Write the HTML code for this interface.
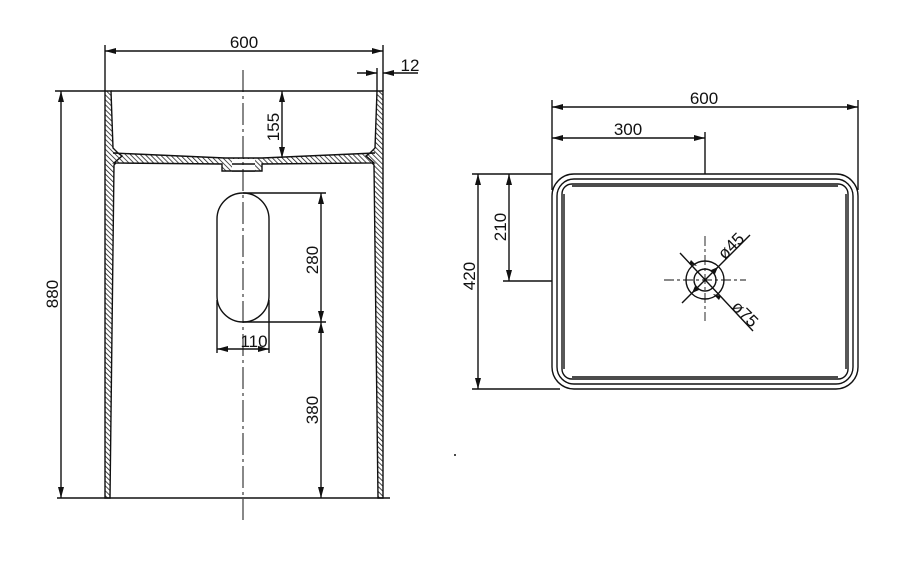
<!DOCTYPE html>
<html><head><meta charset="utf-8"><style>
html,body{margin:0;padding:0;background:#fff;}
svg{display:block;}
text{font-family:"Liberation Sans",sans-serif;font-size:17px;fill:#111;}
</style></head><body>
<svg width="900" height="562" viewBox="0 0 900 562" xmlns="http://www.w3.org/2000/svg">
<defs>
<pattern id="h" width="3.5" height="3.5" patternUnits="userSpaceOnUse" patternTransform="rotate(-45)">
<rect width="3.5" height="3.5" fill="#fff"/><line x1="0" y1="0" x2="0" y2="3.5" stroke="#111" stroke-width="1.5"/>
</pattern>
<marker id="a" markerWidth="11" markerHeight="6" refX="11" refY="3" orient="auto-start-reverse" markerUnits="userSpaceOnUse">
<path d="M0,0 L11,3 L0,6 Z" fill="#111"/></marker>
</defs>
<g stroke="#111" stroke-width="1.4" fill="none">
<path d="M105,91 L111,91 L113,148 L118,153 L122,156 L114,165 L110,498 L105,498 Z" fill="url(#h)"/>
<path d="M383,91 L377,91 L375,148 L370,153 L366,156 L374,165 L378,498 L383,498 Z" fill="url(#h)"/>
<path d="M113,153 L225,158 L262,158 L375,153 L370,153 L366,156 L374,163 L262,164 L262,171 L222,171 L222,164 L114,163 L122,156 L118,153 Z" fill="url(#h)"/>
<rect x="232" y="159" width="23" height="12" fill="#fff" stroke="none"/>
<line x1="232" y1="164" x2="255" y2="164"/><line x1="232" y1="171" x2="255" y2="171"/>
<line x1="55" y1="91" x2="105" y2="91"/><line x1="111" y1="91" x2="377" y2="91"/>
<line x1="57" y1="498" x2="390" y2="498"/>
<line x1="105" y1="45" x2="105" y2="91"/><line x1="383" y1="45" x2="383" y2="91"/>
<line x1="105" y1="51" x2="383" y2="51" marker-start="url(#a)" marker-end="url(#a)"/>
<line x1="357" y1="73" x2="377" y2="73" marker-end="url(#a)"/>
<line x1="418" y1="73" x2="383" y2="73" marker-end="url(#a)"/>
<line x1="377" y1="68" x2="377" y2="91"/>
<line x1="243" y1="70" x2="243" y2="520" stroke-dasharray="22,4,3,4" stroke-width="1"/>
<line x1="282" y1="91" x2="282" y2="158" marker-start="url(#a)" marker-end="url(#a)"/>
<line x1="61" y1="91" x2="61" y2="498" marker-start="url(#a)" marker-end="url(#a)"/>
<rect x="217" y="193" width="52" height="129" rx="26" ry="26"/>
<line x1="243" y1="193" x2="326" y2="193"/><line x1="243" y1="322" x2="326" y2="322"/>
<line x1="321" y1="193" x2="321" y2="322" marker-start="url(#a)" marker-end="url(#a)"/>
<line x1="321" y1="322" x2="321" y2="498" marker-start="url(#a)" marker-end="url(#a)"/>
<line x1="217" y1="300" x2="217" y2="353"/><line x1="269" y1="300" x2="269" y2="353"/>
<line x1="217" y1="349" x2="269" y2="349" marker-start="url(#a)" marker-end="url(#a)"/>
<rect x="552" y="174" width="306" height="215" rx="22"/>
<rect x="557" y="179" width="296" height="205" rx="17"/>
<rect x="562" y="184" width="286" height="195" rx="10"/>
<line x1="572" y1="186" x2="838" y2="186"/><line x1="572" y1="377" x2="838" y2="377"/>
<line x1="564" y1="194" x2="564" y2="369"/><line x1="846" y1="194" x2="846" y2="369"/>
<line x1="552" y1="100" x2="552" y2="190"/><line x1="858" y1="100" x2="858" y2="190"/>
<line x1="552" y1="107" x2="858" y2="107" marker-start="url(#a)" marker-end="url(#a)"/>
<line x1="705" y1="132" x2="705" y2="174"/>
<line x1="552" y1="138" x2="705" y2="138" marker-start="url(#a)" marker-end="url(#a)"/>
<line x1="472" y1="174" x2="552" y2="174"/><line x1="472" y1="389" x2="560" y2="389"/>
<line x1="478" y1="174" x2="478" y2="389" marker-start="url(#a)" marker-end="url(#a)"/>
<line x1="503" y1="281" x2="552" y2="281"/>
<line x1="509" y1="174" x2="509" y2="281" marker-start="url(#a)" marker-end="url(#a)"/>
<circle cx="705" cy="280" r="19"/><circle cx="705" cy="280" r="11"/>
<g stroke-dasharray="10,3,3,3" stroke-width="0.9">
<line x1="664" y1="280" x2="746" y2="280"/><line x1="705" y1="236" x2="705" y2="321"/>
</g>
<line x1="682" y1="303" x2="750" y2="235"/>
<line x1="680" y1="253" x2="753" y2="331"/>
</g>
<g fill="#111">
<path d="M718,267 l-7,3 l4,4 z M692,293 l7,-3 l-4,-4 z"/>
<path d="M689,264 l8,2 l-6,-6 z M721,296 l-8,-2 l6,6 z"/>
<circle cx="455" cy="455" r="1"/>
</g>
<text x="244" y="48" text-anchor="middle">600</text>
<text x="410" y="71" text-anchor="middle">12</text>
<text transform="translate(279,127) rotate(-90)" text-anchor="middle">155</text>
<text transform="translate(58,294) rotate(-90)" text-anchor="middle">880</text>
<text transform="translate(318,260) rotate(-90)" text-anchor="middle">280</text>
<text transform="translate(318,410) rotate(-90)" text-anchor="middle">380</text>
<text x="254" y="347" text-anchor="middle">110</text>
<text x="704" y="104" text-anchor="middle">600</text>
<text x="628" y="135" text-anchor="middle">300</text>
<text transform="translate(475,276) rotate(-90)" text-anchor="middle">420</text>
<text transform="translate(506,227) rotate(-90)" text-anchor="middle">210</text>
<text transform="translate(735,250) rotate(-45)" text-anchor="middle">ø45</text>
<text transform="translate(741,318) rotate(45)" text-anchor="middle">ø75</text>
</svg>
</body></html>
